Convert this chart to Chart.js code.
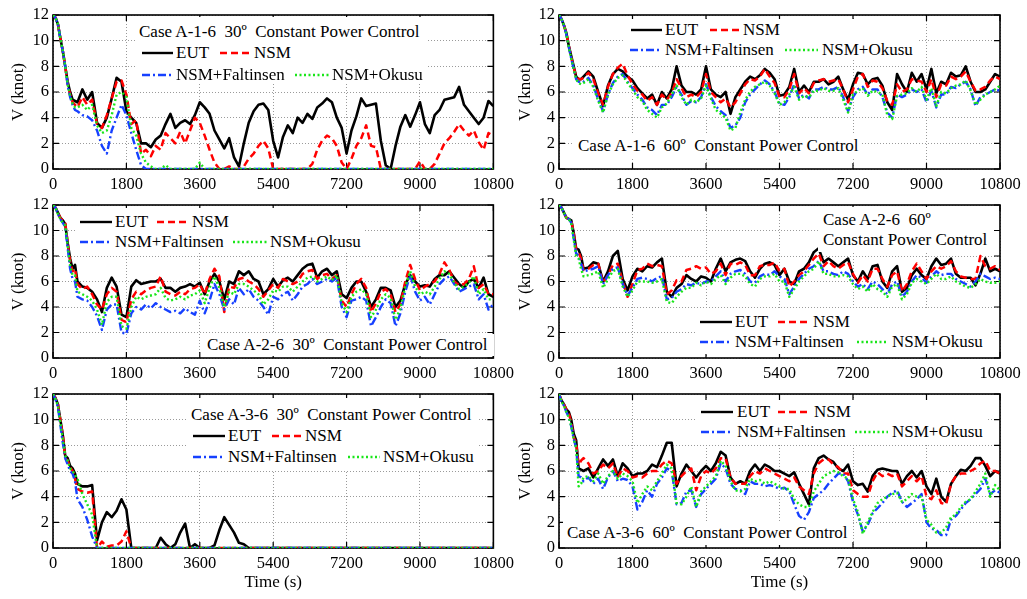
<!DOCTYPE html>
<html><head><meta charset="utf-8">
<script src="https://cdn.jsdelivr.net/npm/chart.js@4.4.1/dist/chart.umd.min.js"></script>
<style>
html,body{margin:0;padding:0;background:#fff;}
body{width:1027px;height:599px;position:relative;overflow:hidden;font-family:'Liberation Serif','Times New Roman',serif;}
.pan{position:absolute;}
.box{position:absolute;background:#fff;}
.lbl{position:absolute;font-size:17px;line-height:20px;white-space:pre;color:#000;}
svg.smp{position:absolute;overflow:visible;}
</style></head><body>
<script>
// ---------- DATA ----------
const timeS = [0,60,120,180,240,300,360,420,480,540,600,720,
 840,960,1080,1200,1320,1440,1560,1680,1800,1920,2040,2160,
 2280,2400,2520,2640,2760,2880,3000,3120,3240,3360,3480,3600,
 3720,3840,3960,4080,4200,4320,4440,4560,4680,4800,4920,5040,
 5160,5280,5400,5520,5640,5760,5880,6000,6120,6240,6360,6480,
 6600,6720,6840,6960,7080,7200,7320,7440,7560,7680,7800,7920,
 8040,8160,8280,8400,8520,8640,8760,8880,9000,9120,9240,9360,
 9480,9600,9720,9840,9960,10080,10200,10320,10440,10560,10680,10800];
const xTickVals = [0,1800,3600,5400,7200,9000,10800];
const yTickVals = [0,2,4,6,8,10,12];
const seriesNames = ['EUT','NSM','NSM+Faltinsen','NSM+Okusu'];

// Case A-1-6 30deg
const p1EUT = [12,11.8,11.3,10.2,9.2,8.0,6.8,6.0,5.4,5.3,5.2,6.2,
 5.4,6.0,3.6,3.2,4.0,5.5,7.1,6.8,4.5,4.0,3.6,2.0,
 2.0,1.7,2.3,2.6,3.5,4.3,3.2,3.6,3.8,3.5,4.2,5.2,
 4.8,4.3,3.0,2.3,1.6,2.4,0.9,0.2,2.0,3.6,4.5,5.0,
 5.1,4.6,2.2,0.9,2.5,3.4,2.8,4.0,3.6,4.3,3.9,4.8,
 5.1,5.5,5.2,4.0,3.2,1.2,3.0,4.1,5.5,4.9,5.0,5.1,
 2.2,0.3,0.0,1.8,3.3,4.2,3.3,4.2,5.2,3.5,2.8,4.2,
 4.6,5.4,5.5,5.6,6.4,5.0,4.5,4.0,3.5,4.0,5.3,4.9];
const p1NSM = [12,11.8,11.3,10.2,9.2,8.0,6.6,5.8,5.2,5.0,4.8,5.6,
 5.0,5.4,3.5,3.2,4.2,5.5,6.8,6.9,5.8,3.5,3.8,1.2,
 1.5,1.0,1.8,1.5,2.8,2.4,2.0,2.9,2.0,3.0,4.0,3.6,
 2.6,1.5,0.5,0.0,0.0,0.2,0.0,0.0,0.2,0.8,1.2,1.8,
 2.2,1.6,0.0,0.0,0.0,0.0,0.0,0.0,0.0,0.0,0.4,1.5,
 2.2,2.6,2.4,1.8,0.5,0.0,0.8,1.8,2.4,3.4,1.8,1.7,
 0.0,0.0,0.0,0.0,0.0,0.0,0.0,0.0,0.6,0.0,0.0,0.4,
 1.2,2.0,2.4,2.9,3.5,3.0,2.6,3.0,2.1,1.5,2.8,2.6];
const p1FAL = [12,11.8,11.3,10.2,9.2,8.0,6.5,5.6,5.0,4.6,4.5,4.2,
 4.1,3.8,3.0,1.8,1.2,3.0,4.0,5.0,4.2,2.8,1.5,0.3,
 0,0,0,0,0,0,0,0,0,0,0,0,
 0,0,0,0,0,0,0,0,0,0,0,0,
 0,0,0,0,0,0,0,0,0,0,0,0,
 0,0,0,0,0,0,0,0,0,0,0,0,
 0,0,0,0,0,0,0,0,0,0,0,0,
 0,0,0,0,0,0,0,0,0,0,0,0];
const p1OKU = [12,11.8,11.3,10.2,9.2,8.0,6.6,5.7,5.1,4.8,4.8,5.0,
 4.6,5.0,3.4,2.8,3.0,4.2,5.8,6.0,5.6,3.2,2.6,1.2,
 0.5,0.2,0,0,0.3,0,0,0,0,0,0,0.5,
 0,0,0,0,0,0,0,0,0,0,0,0,
 0,0,0,0,0,0,0,0,0,0,0,0,
 0,0,0,0,0,0,0,0,0,0,0,0,
 0,0,0,0,0,0,0,0,0,0,0,0,
 0,0,0,0,0,0,0,0,0,0,0,0];

// Case A-1-6 60deg
const p2EUT = [12,11.7,11.2,10.6,9.6,8.8,8.0,7.2,7.0,7.0,7.2,7.6,
 7.2,6.0,4.9,6.5,7.4,7.8,7.6,7.2,6.9,6.3,5.9,5.5,
 5.8,5.0,6.0,5.5,6.2,8.0,6.5,6.0,6.0,5.8,6.2,8.0,
 6.2,5.8,5.6,6.0,4.3,5.6,6.2,6.8,7.2,7.0,7.3,7.8,
 7.5,7.0,5.7,5.8,6.4,7.8,6.0,6.5,6.0,6.8,6.8,7.0,
 6.6,6.8,7.2,6.2,5.4,6.6,7.5,7.4,6.6,7.0,7.1,6.5,
 5.2,4.6,7.4,6.6,6.0,7.5,6.8,7.4,6.2,7.8,5.9,6.8,
 6.6,7.5,7.2,7.3,8.0,6.8,6.0,6.0,6.2,6.8,7.4,7.2];
const p2NSM = [12,11.7,11.2,10.6,9.6,8.7,7.9,7.2,7.0,7.0,7.1,7.5,
 7.0,5.9,5.0,6.4,7.4,7.9,8.2,7.3,6.6,6.1,5.8,5.3,
 5.6,5.0,5.8,5.4,5.9,7.0,6.3,5.6,5.8,5.6,6.0,7.4,
 6.0,5.6,5.2,5.5,4.8,5.2,5.9,6.6,7.0,6.9,7.2,7.8,
 7.2,6.7,5.6,5.6,6.2,7.4,5.9,6.3,5.9,6.7,6.9,7.0,
 6.8,6.9,7.0,6.2,5.2,6.2,7.2,7.4,6.4,6.9,6.8,6.3,
 5.3,5.0,6.6,6.0,6.2,7.0,6.9,6.8,6.0,7.0,5.6,6.6,
 6.5,7.2,7.0,7.2,7.6,6.8,6.1,6.2,6.4,6.9,7.2,7.0];
const p2FAL = [12,11.7,11.2,10.5,9.5,8.6,7.8,7.0,6.8,6.7,6.8,7.1,
 6.5,5.4,4.5,5.8,6.7,7.2,7.4,6.8,6.3,5.8,5.4,4.8,
 4.6,4.2,5.0,5.0,5.6,6.4,5.8,5.0,5.3,5.2,5.6,6.6,
 5.6,4.9,4.5,4.2,3.2,3.4,4.0,5.2,5.8,6.2,6.6,6.9,
 6.6,6.0,5.1,5.0,5.6,6.6,5.5,5.8,5.5,6.2,6.2,6.4,
 6.2,6.2,6.4,5.6,4.5,5.6,6.2,6.4,5.8,6.2,6.2,5.6,
 4.4,4.0,5.8,5.6,5.8,6.2,6.0,6.2,5.2,6.1,4.8,5.8,
 5.8,6.4,6.3,6.6,6.8,6.2,4.9,5.6,5.8,6.0,6.2,6.1];
const p2OKU = [12,11.7,11.2,10.5,9.5,8.6,7.8,7.0,6.7,6.6,6.7,7.0,
 6.4,5.3,4.4,5.8,6.6,7.1,7.3,6.7,6.2,5.6,5.3,4.6,
 4.3,4.0,4.8,5.1,5.8,6.5,5.6,5.0,5.4,5.2,5.5,6.5,
 5.5,4.6,4.3,4.0,3.0,3.2,4.4,5.4,6.0,6.4,6.6,6.8,
 6.5,5.9,5.0,5.2,5.8,6.4,5.4,5.7,5.6,6.1,6.1,6.3,
 6.1,6.1,6.3,5.4,4.4,5.8,6.1,6.3,5.7,6.1,6.0,5.8,
 4.2,3.9,5.7,5.8,5.9,6.3,6.0,6.4,5.4,6.3,4.9,6.0,
 5.9,6.3,6.5,6.6,6.9,6.1,5.0,5.4,5.8,6.0,6.2,6.5];

// Case A-2-6 30deg
const p3EUT = [12,11.8,11.4,11.0,10.8,10.5,9.0,7.8,7.0,7.3,6.0,5.6,
 5.5,5.2,4.6,3.6,5.5,6.3,5.6,3.4,3.2,5.6,6.1,5.8,
 5.9,6.0,6.0,6.2,5.5,5.5,5.2,5.5,5.6,5.8,5.6,5.9,
 5.0,6.0,6.6,6.0,4.6,6.0,5.8,6.8,6.5,6.8,6.2,6.0,
 5.0,5.4,6.2,5.6,6.1,6.3,6.0,6.5,7.0,7.3,7.4,6.3,
 6.8,7.0,6.5,6.8,5.0,4.7,5.5,6.0,6.0,5.2,4.0,4.6,
 5.5,5.5,5.3,4.0,4.5,5.8,6.5,6.0,5.6,5.7,5.6,6.2,
 6.5,6.5,6.8,6.3,5.8,5.5,6.0,6.2,5.5,6.3,5.0,4.8];
const p3NSM = [12,11.8,11.4,11.0,10.8,10.6,9.0,7.6,6.8,7.0,5.8,5.4,
 5.6,5.0,4.2,3.8,5.0,5.5,5.2,3.0,2.8,4.6,5.2,5.0,
 5.3,5.5,5.6,6.4,5.2,5.0,4.9,5.2,5.0,5.4,5.5,5.8,
 5.0,6.2,7.0,6.4,3.6,5.6,5.5,6.2,6.3,6.0,5.8,5.4,
 4.8,5.3,5.8,5.5,6.2,6.0,5.8,6.0,6.6,6.8,6.9,6.2,
 6.5,6.6,6.2,6.5,4.5,4.0,5.0,5.8,6.2,5.5,3.6,4.3,
 5.2,5.4,5.0,3.6,4.2,6.0,7.3,6.2,5.3,5.6,5.8,6.0,
 6.6,7.5,6.9,6.0,5.7,5.8,6.2,7.2,5.5,5.8,5.0,5.0];
const p3FAL = [12,11.8,11.3,10.9,10.6,10.3,8.6,7.0,6.2,6.0,4.8,4.6,
 4.5,4.0,3.3,2.2,3.8,4.2,4.2,2.0,1.9,3.5,4.0,3.8,
 4.2,3.9,4.3,4.0,3.8,3.6,3.7,3.5,3.9,3.6,3.4,4.5,
 3.5,4.5,5.8,5.0,3.8,4.6,4.2,5.5,5.0,5.4,4.8,4.5,
 4.0,3.4,4.8,4.6,5.0,5.2,4.5,5.0,5.6,5.8,6.2,5.8,
 6.0,6.2,6.0,6.3,4.0,3.2,4.5,4.6,4.8,4.5,2.5,3.2,
 4.0,4.6,4.3,2.5,3.5,5.2,6.5,5.2,4.5,4.8,4.2,5.0,
 5.8,6.2,6.4,5.8,5.2,5.4,5.6,5.8,4.6,5.0,3.8,4.2];
const p3OKU = [12,11.8,11.3,10.9,10.6,10.4,8.8,7.3,6.5,6.5,5.2,5.0,
 4.8,4.5,3.8,2.6,4.4,4.8,4.8,2.5,2.3,4.0,4.8,4.6,
 4.8,4.9,5.0,5.5,4.7,4.5,4.6,4.8,4.6,4.9,5.0,5.3,
 4.3,5.5,6.4,5.5,4.0,5.2,5.0,5.8,5.8,5.6,5.3,5.0,
 4.2,4.6,5.3,5.2,5.6,5.6,5.2,5.6,6.0,6.3,6.4,6.0,
 6.2,6.4,6.1,6.5,4.3,3.6,4.8,5.2,5.4,5.0,3.2,3.8,
 4.6,5.0,4.7,3.0,3.9,5.6,6.8,5.6,5.0,5.2,5.0,5.6,
 6.2,6.8,6.6,5.9,5.4,5.6,5.9,6.4,5.0,5.4,4.6,4.6];

// Case A-2-6 60deg
const p4EUT = [12,11.8,11.4,11.0,10.9,10.8,9.8,8.6,8.5,8.0,7.0,7.1,
 7.5,7.4,6.0,6.8,8.0,8.4,6.2,5.3,6.4,7.0,6.8,7.2,
 7.1,7.5,7.8,5.2,4.8,5.5,5.8,6.5,6.2,6.0,6.4,6.3,
 6.0,7.0,7.8,6.8,7.5,7.7,7.8,7.6,6.8,6.3,7.0,7.4,
 7.5,7.3,6.5,7.0,6.0,5.8,6.8,7.0,7.5,8.3,8.6,7.5,
 7.8,7.5,7.2,7.5,7.8,6.5,6.0,6.8,6.2,7.2,7.3,6.0,
 5.5,6.8,7.2,5.2,5.5,6.5,7.0,6.5,6.2,7.2,7.8,7.3,
 7.4,7.8,6.6,6.3,6.3,6.3,5.7,6.6,7.8,6.8,7.0,6.8];
const p4NSM = [12,11.8,11.4,11.0,10.9,10.8,9.8,8.5,8.3,7.8,6.9,7.0,
 7.3,7.4,5.9,6.5,7.3,7.4,6.0,4.8,5.8,6.9,7.0,7.4,
 7.2,7.3,7.2,5.0,5.3,6.1,6.0,6.9,7.0,7.2,7.0,7.1,
 6.6,6.8,7.4,6.5,7.4,7.3,7.5,7.3,6.5,6.5,7.2,7.3,
 7.3,7.5,6.8,7.0,5.6,6.0,6.5,6.8,7.3,7.8,8.2,7.2,
 7.6,7.2,7.0,7.3,7.5,6.6,5.9,6.5,6.0,7.0,7.0,6.2,
 5.6,6.5,6.8,5.2,5.8,6.8,7.4,6.8,6.2,6.8,7.2,7.0,
 7.2,7.6,6.8,6.4,6.3,6.2,6.2,8.0,7.2,7.0,7.2,6.9];
const p4FAL = [12,11.8,11.4,11.0,10.9,10.6,9.4,8.2,8.0,7.4,6.8,6.9,
 7.0,7.2,5.8,6.5,7.0,7.1,5.8,4.9,5.5,6.2,6.3,6.2,
 6.0,6.3,6.4,4.6,4.7,5.2,5.4,5.8,5.7,5.9,5.8,6.0,
 6.0,6.4,6.8,6.0,6.6,6.8,6.9,6.6,6.0,5.9,6.4,6.6,
 6.5,6.8,6.4,6.2,5.0,5.6,6.2,6.6,7.0,7.2,7.6,6.8,
 6.8,6.6,6.5,6.8,6.6,6.0,5.6,5.8,5.4,6.0,5.8,5.4,
 5.0,5.8,6.0,4.8,5.2,6.0,6.5,6.3,5.9,6.4,6.8,6.5,
 6.6,6.6,6.2,6.0,5.8,5.6,6.0,6.6,6.4,6.2,6.3,6.2];
const p4OKU = [12,11.8,11.4,11.0,10.9,10.6,9.3,8.0,7.8,7.0,6.4,6.5,
 6.6,6.8,5.5,6.2,6.8,7.0,5.6,4.8,5.3,6.0,6.0,6.0,
 5.9,6.0,6.2,4.4,4.3,4.8,5.2,5.5,5.5,5.9,5.7,6.0,
 5.8,6.2,6.5,5.8,6.3,6.6,6.6,6.4,5.8,5.6,6.2,6.4,
 6.4,6.6,6.0,6.0,4.8,5.4,6.0,6.4,6.8,7.0,7.6,6.6,
 6.6,6.4,6.4,6.5,6.4,5.8,5.4,5.6,5.2,5.8,5.4,5.2,
 4.8,5.6,5.8,4.6,5.0,5.9,6.2,6.0,5.8,6.2,6.6,6.2,
 6.2,6.4,6.0,5.8,5.6,5.5,5.8,6.2,6.0,5.9,5.9,6.0];

// Case A-3-6 30deg
const p5EUT = [12,11.7,11.2,10.0,8.8,7.2,7.0,6.4,6.2,5.8,5.0,4.8,
 4.8,4.9,0.6,2.0,2.8,2.4,2.9,3.8,3.0,0.0,0.0,0.0,
 0.0,0.0,0.0,0.8,0.3,0.0,0.3,1.2,1.9,0.0,0.3,0.0,
 0.0,0.0,0.2,1.4,2.4,1.8,1.2,0.4,0.3,0.0,0.0,0.0,
 0,0,0,0,0,0,0,0,0,0,0,0,
 0,0,0,0,0,0,0,0,0,0,0,0,
 0,0,0,0,0,0,0,0,0,0,0,0,
 0,0,0,0,0,0,0,0,0,0,0,0];
const p5NSM = [12,11.7,11.2,10.0,8.8,7.0,6.8,6.3,6.0,5.4,4.6,4.4,
 4.3,4.4,0.0,0.5,0.1,0.2,0.2,0.5,1.3,0.0,0.0,0.0,
 0,0,0,0,0,0,0,0,0,0,0,0,
 0,0,0,0,0,0,0,0,0,0,0,0,
 0,0,0,0,0,0,0,0,0,0,0,0,
 0,0,0,0,0,0,0,0,0,0,0,0,
 0,0,0,0,0,0,0,0,0,0,0,0,
 0,0,0,0,0,0,0,0,0,0,0,0];
const p5FAL = [12,11.6,11.0,9.6,8.2,7.0,6.5,6.0,5.8,5.2,3.8,3.2,
 2.2,0.9,0,0,0,0,0,0,0,0,0,0,
 0,0,0,0,0,0,0,0,0,0,0,0,
 0,0,0,0,0,0,0,0,0,0,0,0,
 0,0,0,0,0,0,0,0,0,0,0,0,
 0,0,0,0,0,0,0,0,0,0,0,0,
 0,0,0,0,0,0,0,0,0,0,0,0,
 0,0,0,0,0,0,0,0,0,0,0,0];
const p5OKU = [12,11.6,11.1,9.8,8.5,7.2,6.8,6.2,6.0,5.7,5.4,4.2,
 3.4,2.6,0,0,0,0,0,0,0,0,0,0,
 0,0,0,0,0,0,0,0,0,0,0,0,
 0,0,0,0,0,0,0,0,0,0,0,0,
 0,0,0,0,0,0,0,0,0,0,0,0,
 0,0,0,0,0,0,0,0,0,0,0,0,
 0,0,0,0,0,0,0,0,0,0,0,0,
 0,0,0,0,0,0,0,0,0,0,0,0];

// Case A-3-6 60deg
const p6EUT = [12,11.5,11.2,10.8,10.6,10.0,8.9,8.4,6.2,6.1,6.0,6.2,
 5.5,6.2,6.9,6.4,6.9,5.6,6.6,6.2,5.6,5.8,5.8,6.0,
 6.5,6.3,7.2,8.2,8.2,4.8,5.8,6.5,6.0,5.5,6.0,6.4,
 6.0,6.6,7.5,7.2,5.5,5.0,5.2,5.0,6.0,6.5,6.0,6.5,
 6.3,6.0,6.0,5.8,5.6,5.9,5.0,4.2,3.4,6.2,7.0,7.2,
 6.9,6.7,6.2,6.0,6.5,5.2,4.9,5.0,4.4,5.6,6.1,6.2,
 6.1,6.0,6.0,5.0,5.6,6.0,5.5,6.0,4.8,4.2,5.4,4.0,
 3.6,5.0,5.6,6.1,6.0,6.4,7.0,7.0,6.4,5.6,6.0,5.8];
const p6NSM = [12,11.5,11.2,10.8,10.5,9.8,8.6,8.2,6.5,6.8,7.0,6.6,
 5.8,6.0,6.5,6.2,6.6,5.5,6.2,6.0,5.5,5.6,5.5,5.8,
 6.0,6.0,6.5,6.8,6.6,5.0,5.6,6.0,6.2,4.5,5.6,6.0,
 5.8,6.2,7.0,7.0,5.5,5.0,5.0,5.0,5.6,6.0,5.8,6.2,
 6.0,5.8,5.6,5.4,5.2,5.5,4.8,4.5,4.2,5.8,6.6,6.9,
 6.9,6.5,6.3,5.8,5.8,4.5,4.2,4.0,4.0,5.2,5.9,5.6,
 5.8,5.6,5.8,4.8,5.2,5.6,5.2,5.6,4.0,3.8,4.5,3.5,
 3.4,5.0,5.6,5.8,5.8,6.0,6.2,6.6,6.8,6.0,6.0,5.8];
const p6FAL = [12,11.4,11.1,10.6,10.2,9.5,8.5,7.8,5.6,5.5,5.2,5.5,
 5.0,5.4,4.6,5.5,6.0,5.2,5.4,5.3,4.8,3.0,3.6,4.5,
 4.0,5.0,5.5,6.2,6.0,3.4,3.5,4.4,4.5,3.2,4.2,4.6,
 5.0,5.4,6.6,6.2,5.0,4.6,4.5,4.2,5.2,5.0,5.0,4.8,
 4.9,4.8,4.6,4.7,4.4,3.4,2.5,2.2,2.8,3.9,4.2,4.5,
 5.0,5.4,5.8,5.8,5.2,3.6,2.6,1.3,1.8,2.7,3.1,3.5,
 4.0,4.3,4.5,3.6,3.2,3.5,3.8,4.2,2.0,1.5,1.4,1.0,
 1.0,2.2,2.5,3.0,3.5,3.8,4.2,4.6,5.4,4.2,4.5,4.3];
const p6OKU = [12,11.4,11.1,10.6,10.2,9.5,8.5,7.8,4.8,5.0,5.5,5.6,
 5.2,5.8,5.0,5.6,6.0,5.4,5.8,5.6,5.2,3.5,4.2,4.8,
 4.5,5.2,5.8,6.5,6.2,3.5,3.4,4.0,4.8,3.2,4.4,4.8,
 5.2,5.6,6.8,6.4,5.2,4.5,4.4,4.6,5.4,5.2,5.3,5.0,
 5.2,5.0,4.8,4.6,4.6,3.8,3.4,3.2,3.2,4.4,5.0,5.6,
 5.8,6.0,5.9,5.6,5.4,3.8,2.8,1.1,2.0,2.8,3.5,3.8,
 4.0,4.2,4.3,3.6,3.8,4.2,4.0,4.0,2.2,1.8,1.2,1.2,
 1.6,2.4,2.6,3.2,3.6,3.8,4.4,5.0,5.8,4.0,4.9,4.5];

// ---------- STYLE / LAYOUT ----------
const FONT = "'Liberation Serif','Times New Roman',serif";
const sColors = ['#000000','#ff0000','#1640ff','#19e619'];
const sDash = [[],[7,4],[8,3,2,3],[2,2.5]];
const sWidth = [2.6,2.5,2.4,2.4];

const panels = [
 {left:0,   top:0,   w:520, h:200, padR:24, yW:53, xH:31, yTP:8,  xTitle:false, data:[p1EUT,p1NSM,p1FAL,p1OKU]},
 {left:505, top:0,   w:522, h:200, padR:27, yW:54, xH:31, yTP:10, xTitle:false, data:[p2EUT,p2NSM,p2FAL,p2OKU]},
 {left:0,   top:190, w:520, h:200, padR:24, yW:53, xH:32, yTP:8,  xTitle:false, data:[p3EUT,p3NSM,p3FAL,p3OKU]},
 {left:505, top:190, w:522, h:200, padR:27, yW:54, xH:32, yTP:10, xTitle:false, data:[p4EUT,p4NSM,p4FAL,p4OKU]},
 {left:0,   top:379, w:520, h:220, padR:24, yW:53, xH:51, yTP:8,  xTitle:true,  data:[p5EUT,p5NSM,p5FAL,p5OKU]},
 {left:505, top:379, w:522, h:220, padR:27, yW:54, xH:51, yTP:10, xTitle:true,  data:[p6EUT,p6NSM,p6FAL,p6OKU]}
];

const framePlugin = {
  id:'frame',
  beforeDatasetsDraw(chart){
    const {ctx, chartArea:a} = chart;
    const x = chart.scales.x, y = chart.scales.y;
    ctx.save();
    ctx.strokeStyle='#000';
    ctx.lineWidth=1.2;
    ctx.beginPath();
    const L=6;
    x.ticks.forEach(t=>{const px=x.getPixelForValue(t.value);
      ctx.moveTo(px,a.bottom); ctx.lineTo(px,a.bottom-L);
      ctx.moveTo(px,a.top); ctx.lineTo(px,a.top+L);});
    y.ticks.forEach(t=>{const py=y.getPixelForValue(t.value);
      ctx.moveTo(a.left,py); ctx.lineTo(a.left+L,py);
      ctx.moveTo(a.right,py); ctx.lineTo(a.right-L,py);});
    ctx.stroke();
    ctx.lineWidth=1.6;
    ctx.strokeRect(a.left, a.top, a.right-a.left, a.bottom-a.top);
    ctx.restore();
  }
};

panels.forEach(p=>{
  const d=document.createElement('div'); d.className='pan';
  d.style.left=p.left+'px'; d.style.top=p.top+'px';
  const c=document.createElement('canvas'); c.width=p.w; c.height=p.h;
  c.style.width=p.w+'px'; c.style.height=p.h+'px';
  d.appendChild(c); document.body.appendChild(d);
  new Chart(c,{
    type:'line',
    data:{datasets:p.data.map((arr,k)=>({
      label:seriesNames[k],
      data:timeS.map((t,i)=>({x:t,y:arr[i]})),
      borderColor:sColors[k], borderWidth:sWidth[k], borderDash:sDash[k],
      borderJoinStyle:'round', pointRadius:0, fill:false, tension:0, order:4-k
    }))},
    options:{
      responsive:false, animation:false, devicePixelRatio:1,
      layout:{padding:{left:0,top:15,right:p.padR,bottom:0}},
      plugins:{legend:{display:false},tooltip:{enabled:false}},
      scales:{
        x:{type:'linear',min:0,max:10800,
          afterBuildTicks:s=>{s.ticks=xTickVals.map(v=>({value:v}));},
          afterFit:s=>{s.height=p.xH;},
          ticks:{callback:v=>String(v),color:'#000',font:{family:FONT,size:16.5},padding:6,maxRotation:0,autoSkip:false},
          grid:{color:'#9a9a9a',lineWidth:1,drawTicks:false},
          border:{display:false,dash:[1,2]},
          title:{display:p.xTitle,text:'Time (s)',color:'#000',font:{family:FONT,size:17},padding:{top:0,bottom:6}}
        },
        y:{type:'linear',min:0,max:12,
          afterBuildTicks:s=>{s.ticks=yTickVals.map(v=>({value:v}));},
          afterFit:s=>{s.width=p.yW;},
          ticks:{callback:v=>String(v),color:'#000',font:{family:FONT,size:16.5},padding:4},
          grid:{color:'#9a9a9a',lineWidth:1,drawTicks:false},
          border:{display:false,dash:[1,2]},
          title:{display:true,text:'V (knot)',color:'#000',font:{family:FONT,size:17},padding:{top:p.yTP,bottom:0}}
        }
      }
    },
    plugins:[framePlugin]
  });
});

// ---------- LEGENDS / CASE LABELS (HTML overlays) ----------
const boxes = [
 [135,17,293,67],
 [625,19,293,41],[574,134,288,24],
 [76,208,288,44],[203,334,291,22],
 [818,207,174,45],[695,310,295,44],
 [187,398,291,72],
 [697,400,291,44],[563,521,289,24]
];
const texts = [
 [139,32,'Case A-1-6  30º  Constant Power Control'],
 [578,146,'Case A-1-6  60º  Constant Power Control'],
 [207,345,'Case A-2-6  30º  Constant Power Control'],
 [823,220,'Case A-2-6  60º'],[823,240,'Constant Power Control'],
 [191,415,'Case A-3-6  30º  Constant Power Control'],
 [567,533,'Case A-3-6  60º  Constant Power Control']
];
// legend rows: [lineStartX, y, seriesIndex, lineEndX, textX]
const legendItems = [
 [142,53,0,173,176],[220,53,1,252,254],[142,75,2,173,176],[295,75,3,330,332],
 [631,30,0,662,665],[710,30,1,740,743],[630,50,2,662,665],[785,50,3,818,822],
 [80,222,0,112,115],[157,222,1,188,192],[80,242,2,112,115],[233,242,3,267,270],
 [700,322,0,732,735],[778,322,1,810,813],[700,342,2,732,735],[857,342,3,888,892],
 [193,436,0,225,228],[272,436,1,302,305],[193,457,2,225,228],[348,457,3,380,383],
 [701,412,0,733,737],[778,412,1,810,814],[701,432,2,733,737],[855,432,3,888,892]
];
boxes.forEach(b=>{const e=document.createElement('div');e.className='box';
  e.style.left=b[0]+'px';e.style.top=b[1]+'px';e.style.width=b[2]+'px';e.style.height=b[3]+'px';
  document.body.appendChild(e);});
function addText(x,y,t){const e=document.createElement('div');e.className='lbl';
  e.style.left=x+'px';e.style.top=(y-10)+'px';e.textContent=t;document.body.appendChild(e);}
texts.forEach(t=>addText(t[0],t[1],t[2]));
const NS='http://www.w3.org/2000/svg';
legendItems.forEach(it=>{
  const [x1,y,k,x2,tx]=it; const w=x2-x1;
  const s=document.createElementNS(NS,'svg'); s.setAttribute('class','smp');
  s.setAttribute('width',w); s.setAttribute('height',8);
  s.style.left=x1+'px'; s.style.top=(y-4)+'px';
  const l=document.createElementNS(NS,'line');
  l.setAttribute('x1',0);l.setAttribute('y1',4);l.setAttribute('x2',w);l.setAttribute('y2',4);
  l.setAttribute('stroke',sColors[k]);l.setAttribute('stroke-width',2.4);
  if(sDash[k].length) l.setAttribute('stroke-dasharray',sDash[k].join(' '));
  s.appendChild(l); document.body.appendChild(s);
  addText(tx,y,seriesNames[k]);
});
</script>
</body></html>
